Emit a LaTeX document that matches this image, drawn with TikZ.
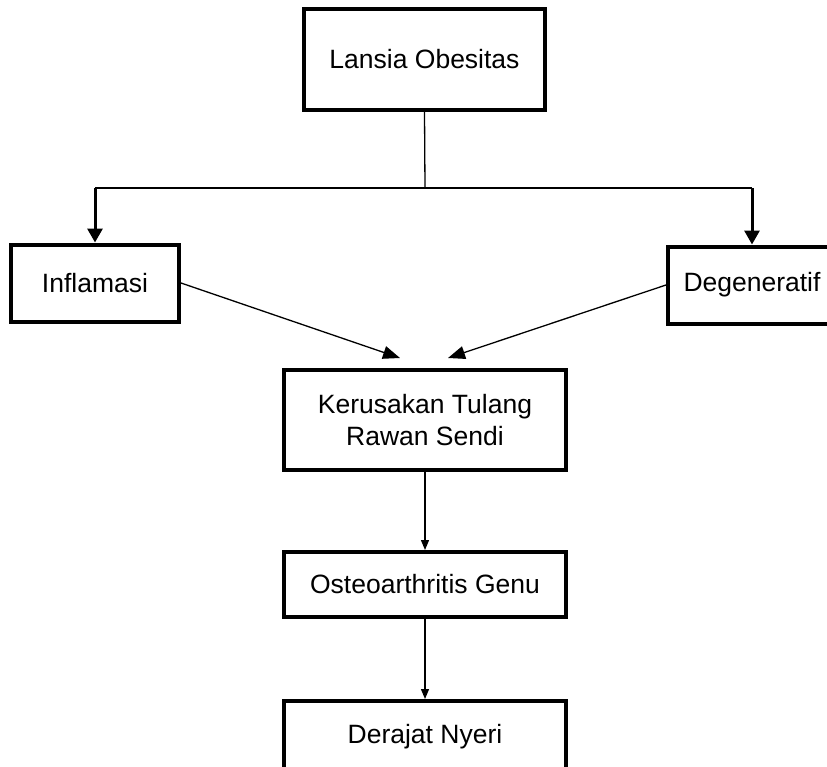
\documentclass[tikz,border=0pt]{standalone}
\usepackage{fontspec}
\setmainfont{Liberation Sans}
\usetikzlibrary{arrows.meta, positioning, calc}
\tikzset{
    block/.style={draw, line width=4pt, inner sep=0pt, align=center,
                  font=\fontsize{26.5}{31.5}\selectfont},
    topblock/.style={block, minimum width=241pt, minimum height=101pt},
    sideblock/.style={block, minimum width=168pt, minimum height=77pt},
    midblock/.style={block, minimum width=282pt, minimum height=100pt},
    lowblock/.style={block, minimum width=282pt, minimum height=65pt},
    link/.style={-, line width=1.3pt},
    fork/.style={-{Triangle[length=14pt, width=15pt]}, line width=3pt},
    feed/.style={-{Triangle[length=17pt, width=13pt]}, line width=1.3pt},
    flow/.style={-{Triangle[length=10pt, width=8pt]}, line width=1.3pt},
}
\begin{document}
\begin{tikzpicture}[x=1pt, y=-1pt]
    \useasboundingbox (0,0) rectangle (827,766);
    \node[topblock] (lansia) at (424.5,59.5) {Lansia Obesitas};
    \node[sideblock] (inflamasi) at (95,283) {Inflamasi};
    \node[sideblock] (degeneratif) at (752,285) {Degeneratif};
    \node[midblock] (kerusakan) at (425,420) {Kerusakan Tulang\\Rawan Sendi};
    \node[lowblock, below=78pt of kerusakan] (oa) {Osteoarthritis Genu};
    \node[lowblock, minimum height=72pt, below=80pt of oa] (nyeri) {Derajat Nyeri};
    \coordinate (split) at (425,188);
    \coordinate (kinL) at (400,358);
    \coordinate (kinR) at (448,358);
    % Branch from the top box
    \draw[link] (lansia.south) -- (split);
    \draw[link] (inflamasi |- split) -- (degeneratif |- split);
    \draw[fork] (inflamasi |- split) -- (inflamasi.north);
    \draw[fork] (degeneratif |- split) -- (degeneratif.north);
    % Both causes towards the cartilage damage
    \draw[feed] (inflamasi.east) -- (kinL);
    \draw[feed] (degeneratif.west) -- (kinR);
    % Chain downwards
    \draw[flow] (kerusakan) -- (oa);
    \draw[flow] (oa) -- (nyeri);
\end{tikzpicture}
\end{document}
